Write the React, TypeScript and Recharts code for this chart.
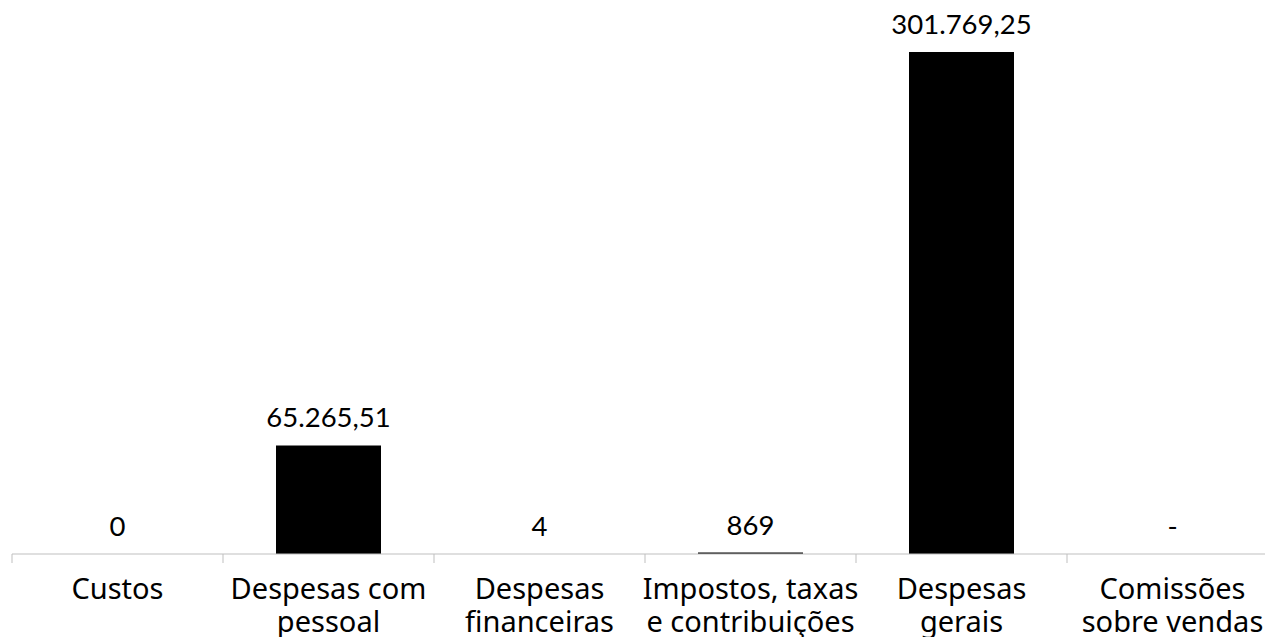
import { BarChart, Bar, XAxis, YAxis, LabelList } from "recharts";

const categories = [
  "Custos",
  "Despesas com\npessoal",
  "Despesas\nfinanceiras",
  "Impostos, taxas\ne contribuições",
  "Despesas\ngerais",
  "Comissões\nsobre vendas",
];
const values = [0, 65265.51, 4, 869, 301769.25, 0];
const valueLabels = ["0", "65.265,51", "4", "869", "301.769,25", "-"];

const data = categories.map((name, i) => ({ name, value: values[i], label: valueLabels[i] }));

const CHART_W = 1280;
const MARGIN_L = 12;
const MARGIN_R = 2;
const BAND = (CHART_W - MARGIN_L - MARGIN_R) / categories.length;

const CategoryTick = (props: any) => {
  const { x, y, payload } = props;
  const lines = String(payload.value).split("\n");
  return (
    <g>
      <line x1={x - BAND / 2} x2={x - BAND / 2} y1={y} y2={y + 9} stroke="#bfbfbf" strokeWidth={1} />
      <text textAnchor="middle" fontFamily="'Noto Sans', sans-serif" fontSize={29} fill="#000">
        {lines.map((l, i) => (
          <tspan key={i} x={x} y={y + 45 + i * 33}>
            {l}
          </tspan>
        ))}
      </text>
    </g>
  );
};

const ValueLabel = (props: any) => {
  const { x, y, width, value } = props;
  return (
    <text
      x={x + width / 2}
      y={y - 18}
      textAnchor="middle"
      fontFamily="Lato, sans-serif"
      fontSize={27.5}
      fill="#000"
    >
      {value}
    </text>
  );
};

export default function App() {
  return (
    <div style={{ position: "absolute", left: 0, top: 0, width: 1265, height: 637, overflow: "hidden", background: "#fff" }}>
      <BarChart
        width={CHART_W}
        height={637}
        data={data}
        margin={{ top: 52, right: MARGIN_R, bottom: 0, left: MARGIN_L }}
        barCategoryGap={0}
      >
        <YAxis hide domain={[0, 301769.25]} allowDataOverflow />
        <XAxis
          dataKey="name"
          interval={0}
          height={83}
          tickLine={false}
          tickSize={0}
          tickMargin={0}
          axisLine={{ stroke: "#bfbfbf", strokeWidth: 1 }}
          tick={<CategoryTick />}
        />
        <Bar dataKey="value" fill="#000" barSize={105} minPointSize={0.01} isAnimationActive={false}>
          <LabelList dataKey="label" content={<ValueLabel />} />
        </Bar>
      </BarChart>
    </div>
  );
}
